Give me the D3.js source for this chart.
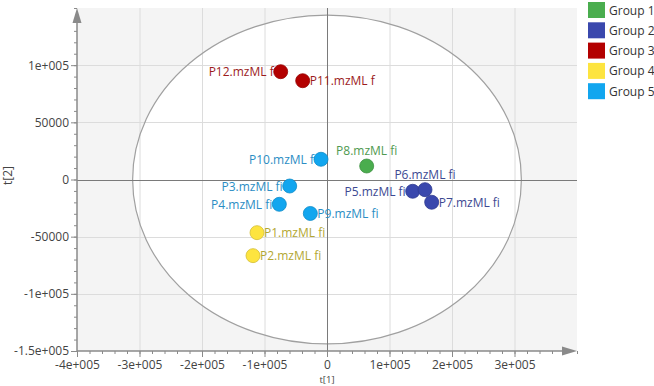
<!DOCTYPE html>
<html>
<head>
<meta charset="utf-8">
<script src="https://cdn.jsdelivr.net/npm/d3@7"></script>
<style>
  body { margin: 0; background: #fff; }
  text { font-family: "Open Sans", sans-serif; }
</style>
</head>
<body>
<div id="chart"></div>
<script>
// score plot data, t[1] / t[2]
var names = ["P12.mzML f", "P11.mzML f", "P10.mzML f", "P3.mzML fi", "P4.mzML fi", "P9.mzML fi",
             "P1.mzML fi", "P2.mzML fi", "P8.mzML fi", "P5.mzML fi", "P6.mzML fi", "P7.mzML fi"];
var groups = [3, 3, 5, 5, 5, 5, 4, 4, 1, 2, 2, 2];
var t1 = [-74100, -38900, -9600, -59700, -76300, -26700, -112000, -118400, 63500, 137100, 156800, 167500];
var t2 = [94300, 86400, 17700, -5700, -21700, -29700, -46500, -66600, 11800, -10300, -8900, -19900];
var labelSide = ["l", "r", "l", "l", "l", "r", "r", "r", "t", "l", "t", "r"];

var groupNames = ["Group 1", "Group 2", "Group 3", "Group 4", "Group 5"];
var groupColors = ["#4aad4e", "#3a48ad", "#b30000", "#fde43f", "#12a6ef"];
var labelColors = ["#4f9a50", "#3d4992", "#9c1c1c", "#b3a733", "#2b8dc4"];

var xTicks = [-4e5, -3e5, -2e5, -1e5, 0, 1e5, 2e5, 3e5];
var xTickLabels = ["-4e+005", "-3e+005", "-2e+005", "-1e+005", "0", "1e+005", "2e+005", "3e+005"];
var yTicks = [-1.5e5, -1e5, -5e4, 0, 5e4, 1e5];
var yTickLabels = ["-1.5e+005", "-1e+005", "-50000", "0", "50000", "1e+005"];

// Hotelling T2 ellipse radii
var ellipseR = [311000, 143800];

var svgWidth = 654, svgHeight = 386;
var svg = d3.select("#chart").append("svg")
    .attr("width", svgWidth)
    .attr("height", svgHeight);

var x = d3.scaleLinear().domain([-4e5, 4e5]).range([77, 577]);
var y = d3.scaleLinear().domain([-1.5e5, 1.5e5]).range([351, 8]);

var axisColor = "#8a8a8a";

svg.append("defs").append("clipPath").attr("id", "plotclip")
  .append("rect")
    .attr("x", x(-4e5)).attr("y", y(1.5e5))
    .attr("width", x(4e5) - x(-4e5)).attr("height", y(-1.5e5) - y(1.5e5));

// background outside the ellipse
svg.append("rect")
    .attr("x", x(-4e5)).attr("y", y(1.5e5))
    .attr("width", x(4e5) - x(-4e5)).attr("height", y(-1.5e5) - y(1.5e5))
    .attr("fill", "#f4f4f4");

svg.append("ellipse")
    .attr("clip-path", "url(#plotclip)")
    .attr("cx", x(0)).attr("cy", y(0))
    .attr("rx", x(ellipseR[0]) - x(0))
    .attr("ry", y(0) - y(ellipseR[1]))
    .attr("fill", "#fff");

// grid
var grid = svg.append("g").attr("stroke", "#dcdcdc").attr("stroke-width", 1);
xTicks.filter(d => d > -4e5 && d != 0).forEach(function(d) {
  grid.append("line")
    .attr("x1", x(d) + 0.5).attr("x2", x(d) + 0.5)
    .attr("y1", y(1.5e5)).attr("y2", y(-1.5e5));
});
yTicks.filter(d => d > -1.5e5 && d != 0).forEach(function(d) {
  grid.append("line")
    .attr("x1", x(-4e5)).attr("x2", x(4e5))
    .attr("y1", Math.round(y(d)) + 0.5).attr("y2", Math.round(y(d)) + 0.5);
});

svg.append("ellipse")
    .attr("cx", x(0)).attr("cy", y(0))
    .attr("rx", x(ellipseR[0]) - x(0))
    .attr("ry", y(0) - y(ellipseR[1]))
    .attr("fill", "none")
    .attr("stroke", "#a0a0a0")
    .attr("stroke-width", 1.2);

// zero lines
svg.append("line")
    .attr("x1", x(0) + 0.5).attr("x2", x(0) + 0.5)
    .attr("y1", y(1.5e5)).attr("y2", y(-1.5e5))
    .attr("stroke", "#7a7a7a");
svg.append("line")
    .attr("x1", x(-4e5)).attr("x2", x(4e5))
    .attr("y1", Math.round(y(0)) + 0.5).attr("y2", Math.round(y(0)) + 0.5)
    .attr("stroke", "#7a7a7a");

// axes
var xAxis = d3.axisBottom(x)
    .tickValues(xTicks)
    .tickSize(6)
    .tickFormat((d, i) => xTickLabels[i]);
var xMinor = d3.axisBottom(x)
    .tickValues(d3.range(-4e5, 4e5 + 1, 2e4))
    .tickSize(3)
    .tickFormat("");
var yAxis = d3.axisLeft(y)
    .tickValues(yTicks)
    .tickSize(6)
    .tickFormat((d, i) => yTickLabels[i]);
var yMinor = d3.axisLeft(y)
    .tickValues(d3.range(-1.5e5, 1.5e5 + 1, 1e4))
    .tickSize(3)
    .tickFormat("");

function styleAxis(g) {
  g.select(".domain").remove();
  g.selectAll("line").attr("stroke", axisColor);
  g.selectAll("text")
    .attr("fill", "#444")
    .style("font-size", "12px")
    .style("font-family", "'Open Sans', sans-serif");
}

svg.append("g").attr("transform", `translate(0, ${y(-1.5e5)})`).call(xMinor).call(styleAxis);
svg.append("g").attr("transform", `translate(0, ${y(-1.5e5)})`).call(xAxis).call(styleAxis)
  .selectAll("text").attr("dy", "0.76em");
svg.append("g").attr("transform", `translate(${x(-4e5)}, 0)`).call(yMinor).call(styleAxis);
svg.append("g").attr("transform", `translate(${x(-4e5)}, 0)`).call(yAxis).call(styleAxis)
  .selectAll("text").attr("x", -8);

// axis lines with arrows
svg.append("line")
    .attr("x1", x(-4e5)).attr("x2", x(4e5) - 8)
    .attr("y1", y(-1.5e5)).attr("y2", y(-1.5e5))
    .attr("stroke", axisColor).attr("stroke-width", 1.5);
svg.append("path")
    .attr("d", `M${x(4e5)},${y(-1.5e5)} l-15,-4.5 l0,9 Z`)
    .attr("fill", axisColor);
svg.append("line")
    .attr("x1", x(-4e5)).attr("x2", x(-4e5))
    .attr("y1", y(-1.5e5)).attr("y2", y(1.5e5) + 8)
    .attr("stroke", axisColor).attr("stroke-width", 1.5);
svg.append("path")
    .attr("d", `M${x(-4e5)},${y(1.5e5)} l-4.5,15 l9,0 Z`)
    .attr("fill", axisColor);

// axis titles
svg.append("text")
    .attr("x", x(0)).attr("y", 383.2)
    .attr("text-anchor", "middle")
    .attr("fill", "#444")
    .style("font-size", "9.5px")
    .text("t[1]");
svg.append("text")
    .attr("transform", `translate(12, ${y(0) - 4}) rotate(-90)`)
    .attr("text-anchor", "middle")
    .attr("fill", "#444")
    .style("font-size", "12px")
    .text("t[2]");

// points
var pts = d3.range(names.length);
svg.append("g").selectAll("circle")
  .data(pts)
  .enter().append("circle")
    .attr("cx", i => x(t1[i]))
    .attr("cy", i => y(t2[i]))
    .attr("r", 7)
    .attr("fill", i => groupColors[groups[i] - 1])
    .attr("stroke", i => d3.color(groupColors[groups[i] - 1]).darker(0.5))
    .attr("stroke-width", 0.8);

svg.append("g").selectAll("text")
  .data(pts)
  .enter().append("text")
    .attr("x", function(i) {
      var s = labelSide[i];
      if (s == "l") return x(t1[i]) - 7;
      if (s == "r") return x(t1[i]) + 7;
      return x(t1[i]);
    })
    .attr("y", function(i) {
      return labelSide[i] == "t" ? y(t2[i]) - 11 : y(t2[i]) + 4.5;
    })
    .attr("text-anchor", i => labelSide[i] == "l" ? "end" : (labelSide[i] == "r" ? "start" : "middle"))
    .attr("fill", i => labelColors[groups[i] - 1])
    .style("font-size", "12px")
    .text(i => names[i]);

// legend
var legend = svg.append("g").selectAll("g")
  .data(groupNames)
  .enter().append("g")
    .attr("transform", (d, i) => `translate(588, ${2 + i * 20.3})`);
legend.append("rect")
    .attr("width", 17).attr("height", 16)
    .attr("fill", (d, i) => groupColors[i]);
legend.append("text")
    .attr("x", 21).attr("y", 12.5)
    .attr("fill", "#333")
    .style("font-size", "12px")
    .text(d => d);
</script>
</body>
</html>
